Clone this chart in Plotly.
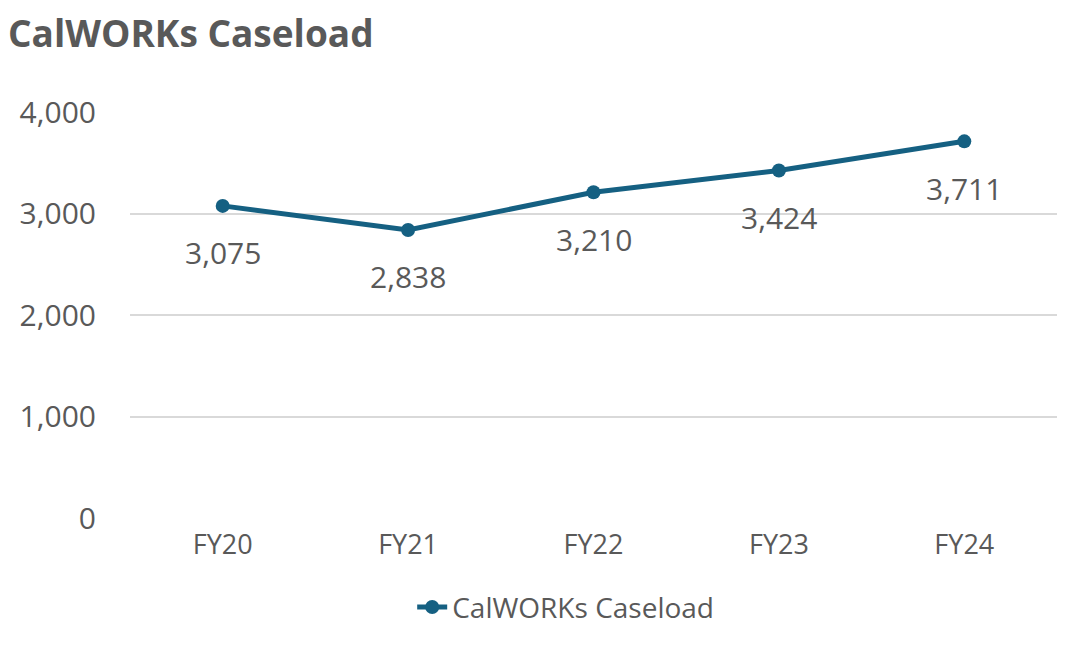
import plotly.graph_objects as go

categories = ["FY20", "FY21", "FY22", "FY23", "FY24"]
caseload = [3075, 2838, 3210, 3424, 3711]
y_ticks = [0, 1000, 2000, 3000, 4000]
y_tick_labels = ["0", "1,000", "2,000", "3,000", "4,000"]

LINE = "#156082"
TEXT = "#595959"
FONT = "Open Sans"

fig = go.Figure()
fig.add_trace(go.Scatter(
    x=categories, y=caseload, name="CalWORKs Caseload",
    mode="lines+markers",
    line=dict(color=LINE, width=5),
    marker=dict(color=LINE, size=14),
))

for c, v in zip(categories, caseload):
    fig.add_annotation(x=c, y=v, text=f"{v:,}", showarrow=False, yshift=-47,
                       font=dict(family=FONT, size=30, color=TEXT))

fig.update_layout(
    width=1080, height=644,
    paper_bgcolor="white", plot_bgcolor="white",
    margin=dict(l=120, r=31, t=104, b=134),
    title=dict(text="<b>CalWORKs Caseload</b>", x=0, xanchor="left",
               y=1 - 26 / 644, yanchor="middle", pad=dict(l=0, t=0),
               font=dict(family=FONT, size=37, color=TEXT)),
    font=dict(family=FONT, color=TEXT),
    showlegend=True,
    legend=dict(orientation="h", x=0.47, xanchor="center", y=-0.22, yanchor="middle",
                font=dict(family=FONT, size=28, color=TEXT)),
    xaxis=dict(type="category", range=[-0.5, 4.5], showgrid=False, showline=False,
               ticks="", ticklabelstandoff=8,
               tickfont=dict(family=FONT, size=27, color=TEXT)),
    yaxis=dict(range=[0, 4000], tickvals=y_ticks, ticktext=y_tick_labels,
               showgrid=True, gridcolor="#d9d9d9", gridwidth=1.5,
               zeroline=False, showline=False, ticks="", ticklabelstandoff=33,
               tickfont=dict(family=FONT, size=30, color=TEXT)),
)

fig.write_html("out.html")
